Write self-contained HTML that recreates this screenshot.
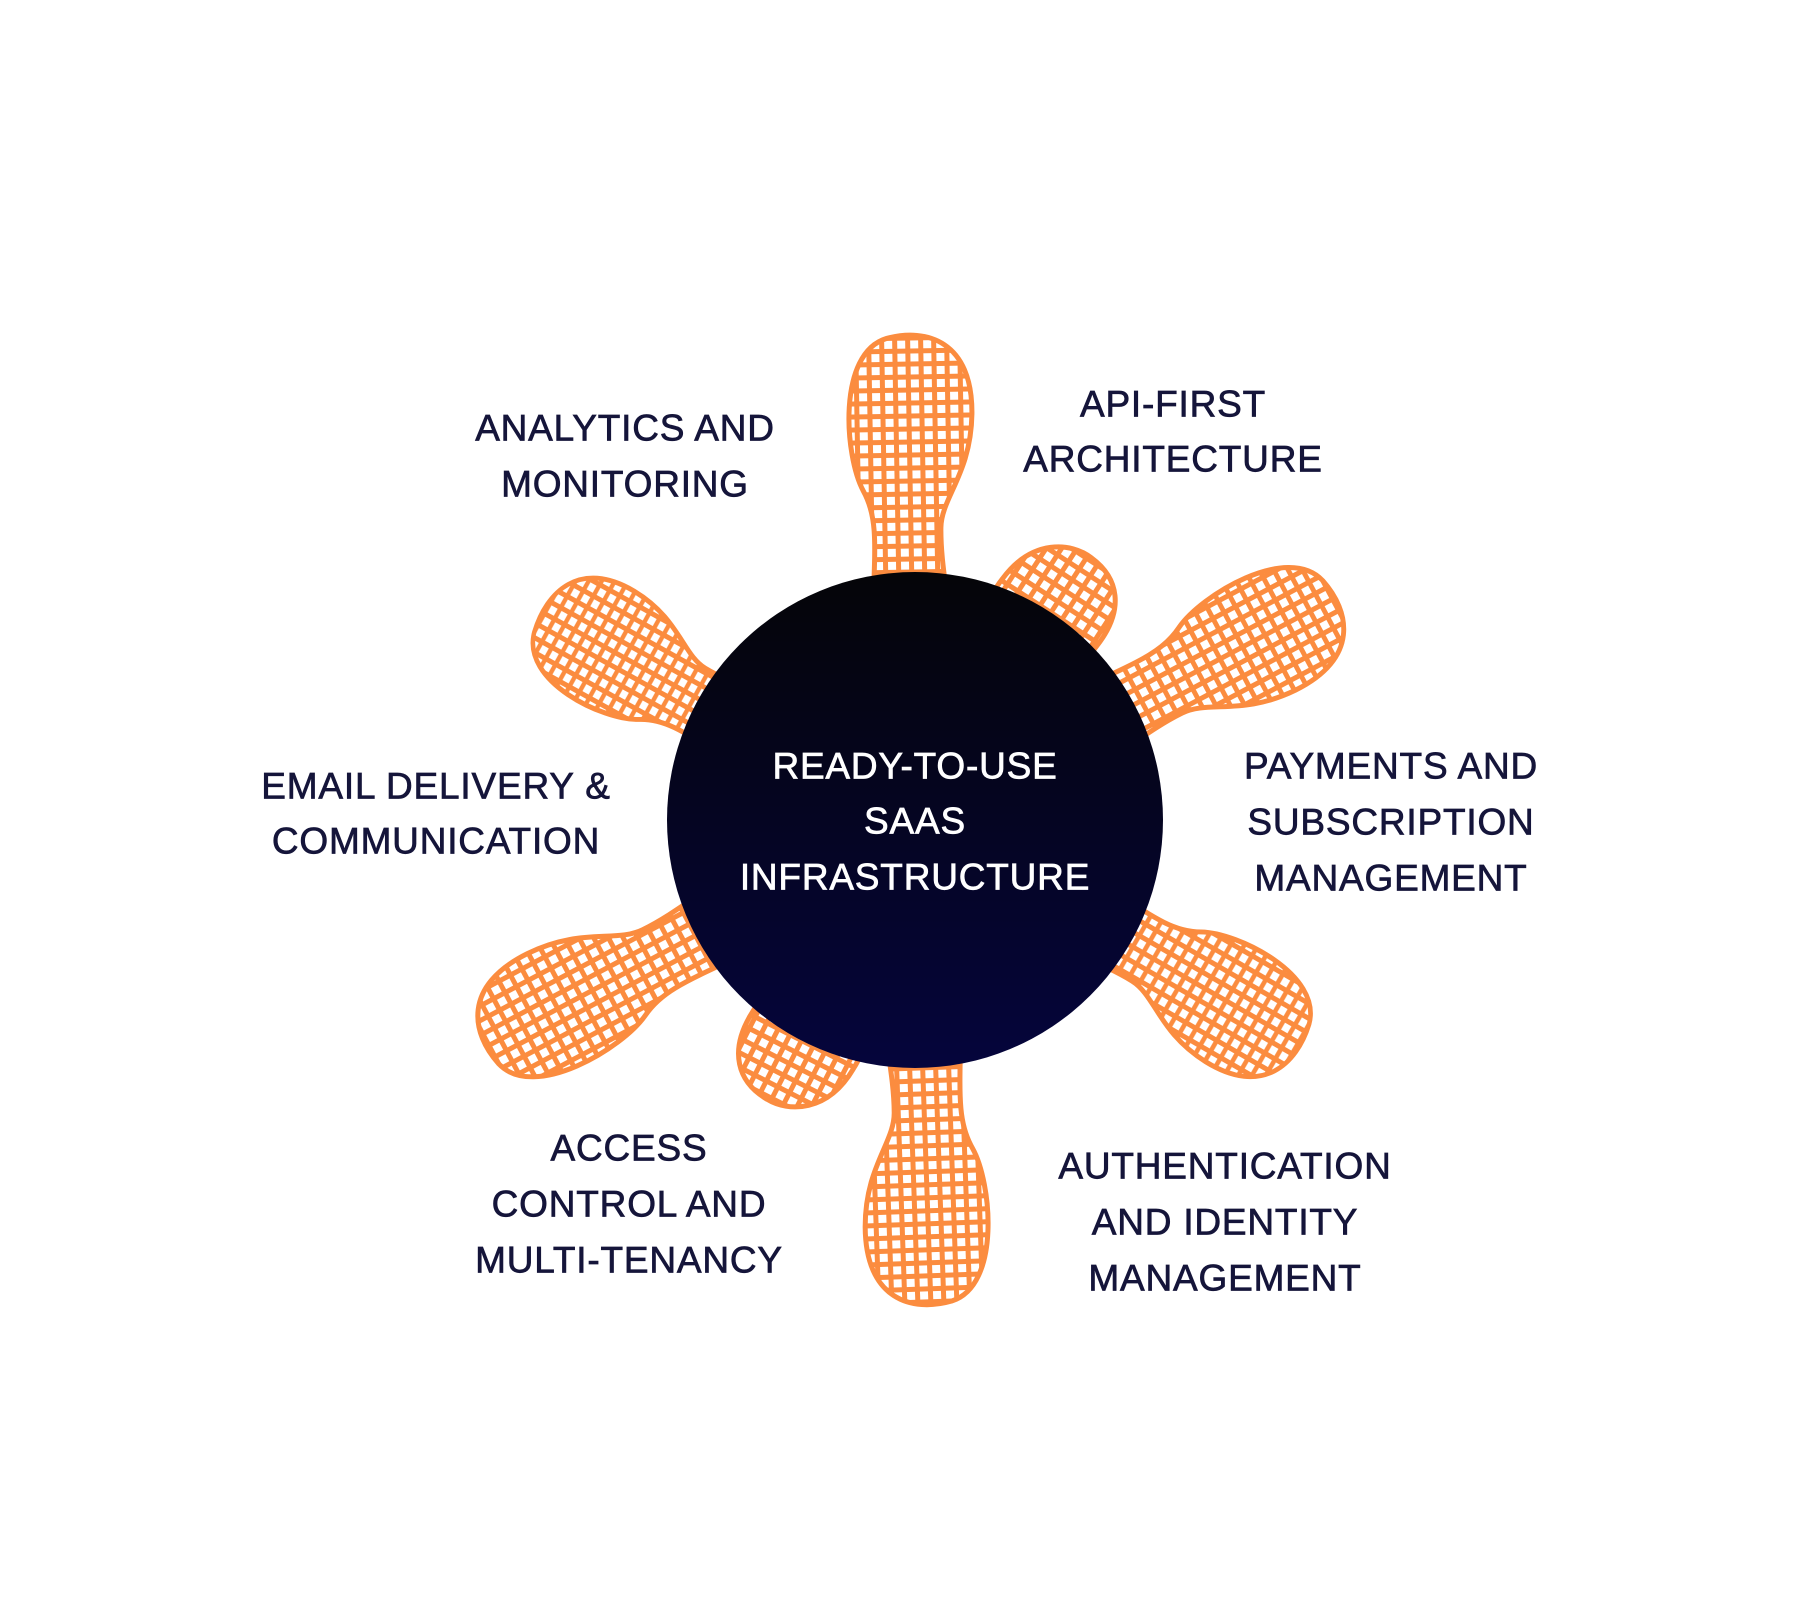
<!DOCTYPE html>
<html><head><meta charset="utf-8"><style>
html,body{margin:0;padding:0;background:#fff;}
svg{display:block;}
text{font-family:"Liberation Sans",sans-serif;font-size:37px;text-anchor:middle;dominant-baseline:central;letter-spacing:0.8px;stroke-width:0.7px;}
.l{fill:#15153a;stroke:#15153a;}
.c{fill:#fff;stroke:#fff;}
</style></head><body>
<svg width="1800" height="1600" viewBox="0 0 1800 1600" xmlns="http://www.w3.org/2000/svg">
<defs>
<pattern id="g" width="13" height="13" patternUnits="userSpaceOnUse">
<rect width="13" height="13" fill="#fb8c3f"/>
<rect x="3.5" y="3.5" width="8" height="8" fill="#fff"/>
</pattern>
<linearGradient id="cg" x1="0" y1="0" x2="0" y2="1">
<stop offset="0" stop-color="#050508"/>
<stop offset="1" stop-color="#05053c"/>
</linearGradient>
<path id="pin" d="M180,-40 C270,-36 300,-30 330,-46 C365,-64 468,-70 482,-20 C492,20 478,66 405,64 C345,62 322,32 292,31 C260,30 230,36 180,40 Z"/>
<path id="stub" d="M150,-50 C200,-55 230,-60 250,-58 C300,-55 318,-20 316,5 C314,40 290,60 250,58 C220,56 190,52 150,50 Z"/>
</defs>
<g transform="translate(915,820)" stroke="#fb8c3f" stroke-width="5">
<use href="#pin" transform="rotate(-91)" fill="url(#g)"/>
<use href="#stub" transform="rotate(-57)" fill="url(#g)"/>
<use href="#pin" transform="rotate(-28) scale(0.98,1)" fill="url(#g)"/>
<use href="#pin" transform="rotate(30) scale(0.92,1)" fill="url(#g)"/>
<use href="#pin" transform="rotate(88)" fill="url(#g)"/>
<use href="#stub" transform="rotate(117)" fill="url(#g)"/>
<use href="#pin" transform="rotate(152)" fill="url(#g)"/>
<use href="#pin" transform="rotate(209) scale(0.88,1)" fill="url(#g)"/>
</g>
<circle cx="915" cy="820" r="248" fill="url(#cg)"/>
<text class="c" x="915" y="766">READY-TO-USE</text>
<text class="c" x="915" y="821">SAAS</text>
<text class="c" x="915" y="877">INFRASTRUCTURE</text>

<text class="l" x="625" y="428">ANALYTICS AND</text>
<text class="l" x="625" y="484">MONITORING</text>
<text class="l" x="1173" y="404">API-FIRST</text>
<text class="l" x="1173" y="459">ARCHITECTURE</text>
<text class="l" x="436" y="786">EMAIL DELIVERY &amp;</text>
<text class="l" x="436" y="841">COMMUNICATION</text>
<text class="l" x="1391" y="766">PAYMENTS AND</text>
<text class="l" x="1391" y="822">SUBSCRIPTION</text>
<text class="l" x="1391" y="878">MANAGEMENT</text>
<text class="l" x="629" y="1148">ACCESS</text>
<text class="l" x="629" y="1204">CONTROL AND</text>
<text class="l" x="629" y="1260">MULTI-TENANCY</text>
<text class="l" x="1225" y="1166">AUTHENTICATION</text>
<text class="l" x="1225" y="1222">AND IDENTITY</text>
<text class="l" x="1225" y="1278">MANAGEMENT</text>
</svg>
</body></html>
